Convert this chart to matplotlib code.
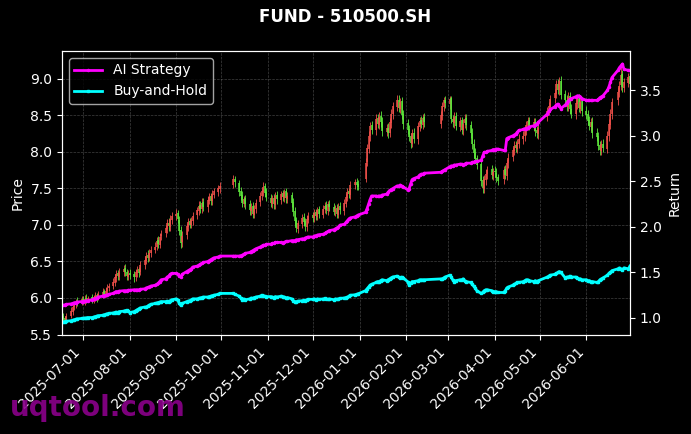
import numpy as np
import pandas as pd
import matplotlib
matplotlib.use('Agg')
import matplotlib.pyplot as plt
import matplotlib.dates as mdates

title = 'FUND - 510500.SH'

start_date = '2025-06-17'
end_date = '2026-06-30'
holidays = ['2025-10-01', '2025-10-02', '2025-10-03', '2025-10-06', '2025-10-07', '2025-10-08',
            '2026-01-01', '2026-01-02',
            '2026-02-16', '2026-02-17', '2026-02-18', '2026-02-19', '2026-02-20', '2026-02-23',
            '2026-04-06', '2026-05-01', '2026-05-04', '2026-05-05', '2026-06-19']

# daily candles, one row per month
open_px = [
    5.79, 5.75, 5.72, 5.70, 5.75, 5.81, 5.87, 5.90, 5.96, 5.93,
    5.99, 5.95, 6.00, 5.97, 6.01, 5.97, 6.00, 6.04, 6.00, 6.04, 6.09, 6.05, 6.10, 6.13, 6.16, 6.21, 6.27, 6.34, 6.29, 6.35, 6.41, 6.36, 6.29,
    6.34, 6.33, 6.28, 6.34, 6.39, 6.36, 6.45, 6.51, 6.59, 6.55, 6.61, 6.66, 6.70, 6.79, 6.73, 6.85, 6.89, 6.94, 7.03, 6.97, 7.07,
    7.12, 7.16, 7.07, 6.93, 6.76, 6.86, 6.97, 7.05, 7.00, 7.05, 7.13, 7.19, 7.27, 7.21, 7.31, 7.24, 7.33, 7.39, 7.32, 7.41, 7.45, 7.49,
    7.55, 7.63, 7.57, 7.46, 7.41, 7.29, 7.36, 7.29, 7.19, 7.26, 7.14, 7.21, 7.31, 7.39, 7.45, 7.53, 7.45,
    7.37, 7.29, 7.37, 7.27, 7.41, 7.34, 7.43, 7.37, 7.46, 7.35, 7.41, 7.31, 7.19, 7.06, 6.94, 7.01, 7.11, 7.05, 6.97, 7.07,
    7.13, 7.09, 7.17, 7.11, 7.21, 7.14, 7.21, 7.27, 7.19, 7.29, 7.25, 7.17, 7.23, 7.14, 7.26, 7.19, 7.29, 7.37, 7.46, 7.41, 7.54, 7.59, 7.56,
    7.62, 7.86, 8.04, 8.21, 8.36, 8.29, 8.46, 8.37, 8.49, 8.41, 8.27, 8.33, 8.26, 8.39, 8.51, 8.61, 8.71, 8.59, 8.69, 8.51,
    8.39, 8.31, 8.21, 8.11, 8.26, 8.17, 8.34, 8.43, 8.37, 8.47, 8.38, 8.49, 8.61, 8.71,
    8.65, 8.73, 8.44, 8.39, 8.49, 8.34, 8.43, 8.29, 8.39, 8.46, 8.37, 8.26, 8.11, 7.99, 7.91, 7.83, 7.61, 7.49, 7.61, 7.69, 7.76, 7.67,
    7.73, 7.71, 7.65, 7.62, 7.76, 7.67, 7.84, 7.93, 8.01, 8.09, 8.04, 8.11, 8.17, 8.21, 8.29, 8.35, 8.43, 8.34, 8.41, 8.29, 8.24,
    8.48, 8.56, 8.61, 8.73, 8.79, 8.93, 8.84, 8.97, 8.79, 8.71, 8.61, 8.76, 8.59, 8.51, 8.65, 8.73, 8.59, 8.69,
    8.56, 8.51, 8.43, 8.34, 8.41, 8.26, 8.21, 8.09, 8.01, 8.11, 8.04, 8.21, 8.37, 8.51, 8.70, 8.81, 8.91, 9.06, 8.87, 8.94, 9.03,
]
high_px = [
    5.82, 5.80, 5.75, 5.80, 5.87, 5.91, 5.96, 5.99, 6.01, 6.02,
    6.03, 6.04, 6.05, 6.03, 6.06, 6.04, 6.08, 6.07, 6.10, 6.13, 6.12, 6.15, 6.19, 6.21, 6.27, 6.33, 6.38, 6.38, 6.41, 6.45, 6.46, 6.40, 6.38,
    6.39, 6.37, 6.40, 6.44, 6.43, 6.50, 6.57, 6.63, 6.65, 6.67, 6.71, 6.76, 6.83, 6.85, 6.89, 6.93, 7.00, 7.08, 7.09, 7.13, 7.18,
    7.21, 7.20, 7.12, 6.98, 6.91, 7.03, 7.10, 7.09, 7.11, 7.17, 7.25, 7.32, 7.32, 7.36, 7.36, 7.40, 7.44, 7.44, 7.48, 7.51, 7.55, 7.58,
    7.68, 7.67, 7.61, 7.52, 7.46, 7.40, 7.41, 7.34, 7.30, 7.31, 7.27, 7.35, 7.45, 7.51, 7.58, 7.57, 7.50,
    7.42, 7.41, 7.42, 7.45, 7.46, 7.46, 7.48, 7.49, 7.50, 7.45, 7.45, 7.36, 7.24, 7.11, 7.07, 7.15, 7.16, 7.10, 7.13, 7.17,
    7.18, 7.21, 7.22, 7.25, 7.26, 7.27, 7.31, 7.32, 7.33, 7.34, 7.30, 7.27, 7.28, 7.30, 7.31, 7.35, 7.43, 7.50, 7.51, 7.60, 7.63, 7.64, 7.61,
    7.91, 8.11, 8.28, 8.41, 8.42, 8.51, 8.52, 8.54, 8.55, 8.47, 8.38, 8.39, 8.46, 8.58, 8.68, 8.77, 8.77, 8.74, 8.75, 8.57,
    8.45, 8.37, 8.26, 8.31, 8.32, 8.40, 8.48, 8.49, 8.52, 8.53, 8.55, 8.68, 8.75, 8.76,
    8.76, 8.76, 8.50, 8.54, 8.54, 8.48, 8.48, 8.44, 8.51, 8.51, 8.42, 8.32, 8.17, 8.05, 7.96, 7.88, 7.67, 7.68, 7.76, 7.81, 7.82, 7.78,
    7.80, 7.77, 7.70, 7.81, 7.82, 7.90, 7.98, 8.07, 8.14, 8.15, 8.17, 8.24, 8.28, 8.35, 8.42, 8.47, 8.48, 8.46, 8.46, 8.35, 8.38,
    8.61, 8.68, 8.78, 8.86, 8.98, 8.99, 9.02, 9.03, 8.85, 8.77, 8.81, 8.82, 8.65, 8.72, 8.78, 8.79, 8.74, 8.75,
    8.62, 8.57, 8.49, 8.46, 8.47, 8.32, 8.27, 8.15, 8.16, 8.17, 8.28, 8.44, 8.58, 8.74, 8.88, 8.96, 9.20, 9.12, 9.01, 9.08, 9.09,
]
low_px = [
    5.70, 5.68, 5.67, 5.67, 5.72, 5.77, 5.84, 5.86, 5.89, 5.90,
    5.92, 5.91, 5.93, 5.94, 5.93, 5.93, 5.96, 5.95, 5.97, 6.00, 6.02, 6.01, 6.06, 6.09, 6.12, 6.16, 6.22, 6.25, 6.24, 6.30, 6.30, 6.25, 6.24,
    6.26, 6.22, 6.23, 6.29, 6.28, 6.31, 6.40, 6.46, 6.49, 6.50, 6.56, 6.61, 6.65, 6.68, 6.68, 6.79, 6.84, 6.89, 6.91, 6.92, 7.01,
    7.06, 7.02, 6.86, 6.68, 6.70, 6.81, 6.92, 6.95, 6.95, 7.00, 7.08, 7.14, 7.16, 7.16, 7.19, 7.18, 7.28, 7.27, 7.27, 7.36, 7.40, 7.44,
    7.50, 7.52, 7.40, 7.34, 7.24, 7.24, 7.22, 7.14, 7.13, 7.10, 7.09, 7.16, 7.26, 7.34, 7.40, 7.38, 7.32,
    7.24, 7.23, 7.22, 7.22, 7.29, 7.29, 7.33, 7.31, 7.30, 7.30, 7.24, 7.12, 6.99, 6.90, 6.89, 6.96, 6.99, 6.92, 6.92, 7.02,
    7.04, 7.04, 7.07, 7.06, 7.10, 7.09, 7.16, 7.15, 7.14, 7.19, 7.13, 7.12, 7.10, 7.09, 7.15, 7.14, 7.24, 7.32, 7.37, 7.35, 7.49, 7.48, 7.47,
    7.58, 7.80, 7.98, 8.15, 8.24, 8.23, 8.32, 8.31, 8.34, 8.22, 8.21, 8.19, 8.20, 8.33, 8.45, 8.55, 8.54, 8.53, 8.44, 8.31,
    8.24, 8.14, 8.05, 8.06, 8.12, 8.11, 8.28, 8.32, 8.31, 8.34, 8.32, 8.43, 8.55, 8.60,
    8.58, 8.39, 8.34, 8.33, 8.29, 8.28, 8.24, 8.23, 8.33, 8.30, 8.19, 8.04, 7.92, 7.84, 7.76, 7.53, 7.43, 7.44, 7.55, 7.63, 7.62, 7.61,
    7.66, 7.58, 7.55, 7.56, 7.62, 7.61, 7.78, 7.87, 7.95, 7.99, 7.98, 8.05, 8.11, 8.15, 8.23, 8.29, 8.29, 8.28, 8.22, 8.19, 8.18,
    8.42, 8.50, 8.55, 8.67, 8.73, 8.79, 8.78, 8.72, 8.64, 8.56, 8.55, 8.52, 8.46, 8.45, 8.59, 8.54, 8.53, 8.49,
    8.44, 8.36, 8.29, 8.28, 8.19, 8.14, 8.02, 7.96, 7.95, 7.99, 7.98, 8.15, 8.31, 8.45, 8.64, 8.75, 8.85, 8.82, 8.81, 8.88, 8.86,
]
close_px = [
    5.74, 5.71, 5.69, 5.76, 5.82, 5.88, 5.91, 5.95, 5.94, 5.98,
    5.96, 5.99, 5.97, 6.00, 5.98, 6.01, 6.03, 6.00, 6.05, 6.08, 6.06, 6.10, 6.14, 6.17, 6.22, 6.28, 6.33, 6.30, 6.36, 6.40, 6.35, 6.30, 6.33,
    6.32, 6.28, 6.35, 6.38, 6.34, 6.45, 6.52, 6.58, 6.55, 6.62, 6.66, 6.70, 6.78, 6.74, 6.84, 6.88, 6.95, 7.02, 6.98, 7.08, 7.12,
    7.15, 7.08, 6.92, 6.75, 6.85, 6.98, 7.04, 7.00, 7.06, 7.12, 7.20, 7.26, 7.22, 7.30, 7.25, 7.34, 7.38, 7.33, 7.42, 7.46, 7.50, 7.53,
    7.62, 7.58, 7.45, 7.40, 7.30, 7.35, 7.28, 7.20, 7.25, 7.15, 7.22, 7.30, 7.40, 7.46, 7.52, 7.44, 7.38,
    7.30, 7.36, 7.28, 7.40, 7.35, 7.42, 7.38, 7.45, 7.36, 7.40, 7.30, 7.18, 7.05, 6.95, 7.02, 7.10, 7.04, 6.98, 7.08, 7.12,
    7.10, 7.16, 7.12, 7.20, 7.15, 7.22, 7.26, 7.20, 7.28, 7.24, 7.18, 7.22, 7.15, 7.25, 7.20, 7.30, 7.38, 7.45, 7.42, 7.55, 7.58, 7.54, 7.52,
    7.85, 8.05, 8.22, 8.35, 8.30, 8.45, 8.38, 8.48, 8.40, 8.28, 8.32, 8.25, 8.40, 8.52, 8.62, 8.70, 8.60, 8.68, 8.50, 8.38,
    8.30, 8.20, 8.12, 8.25, 8.18, 8.35, 8.42, 8.38, 8.46, 8.40, 8.50, 8.62, 8.70, 8.66,
    8.72, 8.45, 8.40, 8.48, 8.35, 8.42, 8.30, 8.38, 8.45, 8.36, 8.25, 8.10, 7.98, 7.90, 7.82, 7.60, 7.50, 7.62, 7.70, 7.75, 7.68, 7.72,
    7.72, 7.64, 7.60, 7.75, 7.68, 7.85, 7.92, 8.02, 8.08, 8.05, 8.12, 8.18, 8.22, 8.30, 8.36, 8.42, 8.35, 8.40, 8.28, 8.25, 8.32,
    8.55, 8.62, 8.72, 8.80, 8.92, 8.85, 8.96, 8.78, 8.70, 8.62, 8.75, 8.58, 8.52, 8.66, 8.72, 8.60, 8.68, 8.55,
    8.50, 8.42, 8.35, 8.40, 8.25, 8.20, 8.08, 8.02, 8.10, 8.05, 8.22, 8.38, 8.52, 8.68, 8.82, 8.90, 9.05, 8.88, 8.95, 9.02, 8.92,
]

# cumulative return curves
strategy = [
    1.14, 1.14, 1.145, 1.15, 1.155, 1.16, 1.165, 1.17, 1.175, 1.18,
    1.18, 1.185, 1.19, 1.19, 1.20, 1.21, 1.21, 1.22, 1.23, 1.24, 1.245, 1.25, 1.25, 1.26, 1.27, 1.28, 1.29, 1.29, 1.295, 1.30, 1.30, 1.30, 1.305,
    1.305, 1.31, 1.31, 1.31, 1.31, 1.315, 1.32, 1.33, 1.335, 1.34, 1.35, 1.36, 1.37, 1.38, 1.40, 1.42, 1.43, 1.45, 1.46, 1.48, 1.49,
    1.49, 1.48, 1.46, 1.45, 1.48, 1.51, 1.52, 1.53, 1.54, 1.56, 1.57, 1.58, 1.59, 1.60, 1.61, 1.62, 1.63, 1.64, 1.65, 1.66, 1.67, 1.68,
    1.68, 1.68, 1.68, 1.685, 1.69, 1.70, 1.71, 1.72, 1.73, 1.74, 1.75, 1.76, 1.78, 1.79, 1.80, 1.80, 1.81,
    1.81, 1.82, 1.82, 1.83, 1.83, 1.83, 1.82, 1.83, 1.84, 1.84, 1.85, 1.85, 1.85, 1.86, 1.86, 1.87, 1.87, 1.88, 1.885, 1.89,
    1.89, 1.90, 1.905, 1.91, 1.915, 1.92, 1.93, 1.94, 1.95, 1.96, 1.97, 1.98, 1.99, 2.00, 2.02, 2.03, 2.05, 2.07, 2.09, 2.10, 2.11, 2.12, 2.13,
    2.16, 2.20, 2.25, 2.30, 2.34, 2.34, 2.335, 2.34, 2.34, 2.35, 2.36, 2.38, 2.40, 2.41, 2.42, 2.45, 2.45, 2.46, 2.45, 2.44,
    2.41, 2.42, 2.47, 2.52, 2.53, 2.55, 2.57, 2.58, 2.58, 2.59, 2.60, 2.61, 2.62, 2.63,
    2.66, 2.67, 2.67, 2.68, 2.68, 2.69, 2.69, 2.68, 2.69, 2.70, 2.70, 2.71, 2.71, 2.72, 2.72, 2.73, 2.78, 2.82, 2.82, 2.83, 2.84, 2.85,
    2.85, 2.855, 2.855, 2.84, 2.84, 2.97, 2.98, 3.00, 3.01, 3.02, 3.04, 3.06, 3.07, 3.08, 3.08, 3.09, 3.10, 3.11, 3.12, 3.13, 3.15,
    3.24, 3.27, 3.29, 3.32, 3.34, 3.35, 3.33, 3.30, 3.34, 3.36, 3.38, 3.40, 3.41, 3.43, 3.44, 3.44, 3.43, 3.41,
    3.39, 3.39, 3.39, 3.39, 3.39, 3.39, 3.40, 3.42, 3.43, 3.44, 3.50, 3.54, 3.59, 3.64, 3.72, 3.75, 3.77, 3.79, 3.73, 3.72, 3.72,
]
buy_hold = [
    0.956, 0.955, 0.96, 0.965, 0.97, 0.975, 0.98, 0.985, 0.99, 0.995,
    0.995, 1.0, 1.0, 1.005, 1.005, 1.01, 1.015, 1.02, 1.025, 1.03, 1.035, 1.04, 1.045, 1.05, 1.055, 1.06, 1.065, 1.06, 1.07, 1.075, 1.08, 1.085, 1.08,
    1.06, 1.07, 1.08, 1.09, 1.10, 1.11, 1.12, 1.12, 1.13, 1.14, 1.15, 1.16, 1.165, 1.17, 1.175, 1.18, 1.18, 1.185, 1.18, 1.19, 1.20,
    1.21, 1.20, 1.16, 1.14, 1.16, 1.18, 1.185, 1.19, 1.20, 1.21, 1.21, 1.215, 1.22, 1.225, 1.23, 1.23, 1.235, 1.24, 1.245, 1.25, 1.26, 1.27,
    1.27, 1.26, 1.24, 1.22, 1.20, 1.21, 1.20, 1.21, 1.22, 1.215, 1.225, 1.23, 1.24, 1.25, 1.245, 1.24, 1.235,
    1.235, 1.23, 1.225, 1.235, 1.23, 1.24, 1.235, 1.23, 1.22, 1.225, 1.21, 1.19, 1.18, 1.18, 1.185, 1.19, 1.195, 1.19, 1.20, 1.205,
    1.205, 1.21, 1.20, 1.21, 1.205, 1.21, 1.215, 1.21, 1.205, 1.21, 1.20, 1.21, 1.205, 1.21, 1.215, 1.22, 1.225, 1.23, 1.24, 1.25, 1.255, 1.26, 1.265,
    1.30, 1.32, 1.34, 1.36, 1.37, 1.39, 1.40, 1.40, 1.41, 1.42, 1.41, 1.42, 1.43, 1.44, 1.45, 1.46, 1.45, 1.44, 1.45, 1.44,
    1.40, 1.36, 1.38, 1.40, 1.40, 1.41, 1.42, 1.42, 1.42, 1.42, 1.43, 1.43, 1.44, 1.45,
    1.47, 1.45, 1.42, 1.40, 1.41, 1.42, 1.42, 1.43, 1.41, 1.40, 1.39, 1.37, 1.35, 1.33, 1.30, 1.27, 1.28, 1.30, 1.31, 1.31, 1.30, 1.29,
    1.29, 1.29, 1.28, 1.28, 1.30, 1.33, 1.34, 1.36, 1.37, 1.38, 1.39, 1.39, 1.40, 1.41, 1.42, 1.42, 1.41, 1.40, 1.41, 1.40, 1.41,
    1.45, 1.46, 1.47, 1.48, 1.49, 1.50, 1.51, 1.50, 1.44, 1.45, 1.45, 1.46, 1.45, 1.45, 1.44, 1.43, 1.43, 1.42,
    1.42, 1.41, 1.41, 1.40, 1.40, 1.39, 1.40, 1.42, 1.43, 1.44, 1.47, 1.49, 1.50, 1.52, 1.54, 1.55, 1.54, 1.53, 1.55, 1.54, 1.57,
]

dates = pd.bdate_range(start_date, end_date)
dates = dates[~dates.isin(pd.to_datetime(holidays))]
n = min(len(dates), len(close_px))
dates = dates[:n]

o = np.array(open_px[:n])
h = np.array(high_px[:n])
l = np.array(low_px[:n])
c = np.array(close_px[:n])
col = np.where(c >= o, '#f0504a', '#5ee83c')

plt.style.use('dark_background')
fig = plt.figure(figsize=(6.91, 4.34), dpi=100)
ax = fig.add_axes([0.0897, 0.2281, 0.822, 0.6544])

# candles: wick + body
ax.vlines(dates, l, h, colors=col, lw=0.6)
ax.vlines(dates, o, c, colors=col, lw=1.1)
ax.set_ylabel('Price', fontsize=10)
ax.grid(True, ls='--', lw=0.5, color='gray', alpha=0.5)
ax.set_xlim(dates[0], dates[-1])
ax.xaxis.set_major_locator(mdates.MonthLocator())
ax.xaxis.set_major_formatter(mdates.DateFormatter('%Y-%m-%d'))
plt.setp(ax.get_xticklabels(), rotation=45, ha='right')

ax2 = ax.twinx()
ax2.plot(dates, strategy[:n], color='#ff00ff', lw=2, marker='o', ms=1.5, label='AI Strategy')
ax2.plot(dates, buy_hold[:n], color='#00ffff', lw=2, marker='s', ms=1.5, label='Buy-and-Hold')
ax2.set_ylabel('Return', fontsize=10)
ax2.set_xlim(dates[0], dates[-1])
ax2.legend(loc='upper left', fontsize=10, facecolor='black', edgecolor='0.8')

fig.suptitle(title, fontsize=12, fontweight='bold', color='white', y=0.9597, va='center')
fig.text(0.014, 0.06, 'uqtool.com', fontsize=20, fontweight='bold', color='#8b008b',
         alpha=0.9, va='center', ha='left')

fig.savefig('out.png', dpi=100, facecolor='black')
